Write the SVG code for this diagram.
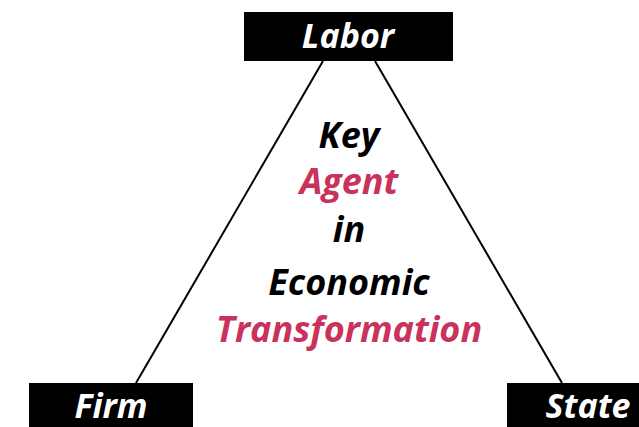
<svg xmlns="http://www.w3.org/2000/svg" width="639" height="427" viewBox="0 0 639 427">
<style>
.box{fill:#000}
.lbl{font-family:"Open Sans","DejaVu Sans",sans-serif;font-weight:700;font-style:italic;font-size:34px;fill:#fff;text-anchor:middle}
.c{font-family:"Open Sans","DejaVu Sans",sans-serif;font-weight:700;font-style:italic;font-size:36px;text-anchor:middle}
.k{fill:#000}
.p{fill:#C9325B}
.ln{stroke:#000;stroke-width:2;fill:none}
</style>
<rect width="639" height="427" fill="#fff"/>
<g id="connectors">
<line class="ln" x1="323" y1="61" x2="136" y2="383"/>
<line class="ln" x1="375" y1="61" x2="562" y2="383"/>
</g>
<g id="labor"><rect class="box" x="244" y="12" width="209" height="49"/><text class="lbl" x="348" y="48">Labor</text></g>
<g id="firm"><rect class="box" x="29" y="383" width="164" height="44"/><text class="lbl" x="111" y="418">Firm</text></g>
<g id="state"><rect class="box" x="507" y="383" width="132" height="44"/><text class="lbl" x="588" y="418">State</text></g>
<g id="center">
<text class="c k" x="349" y="148">Key</text>
<text class="c p" x="349" y="194">Agent</text>
<text class="c k" x="349" y="242">in</text>
<text class="c k" x="349" y="295">Economic</text>
<text class="c p" x="349" y="342">Transformation</text>
</g>
</svg>
